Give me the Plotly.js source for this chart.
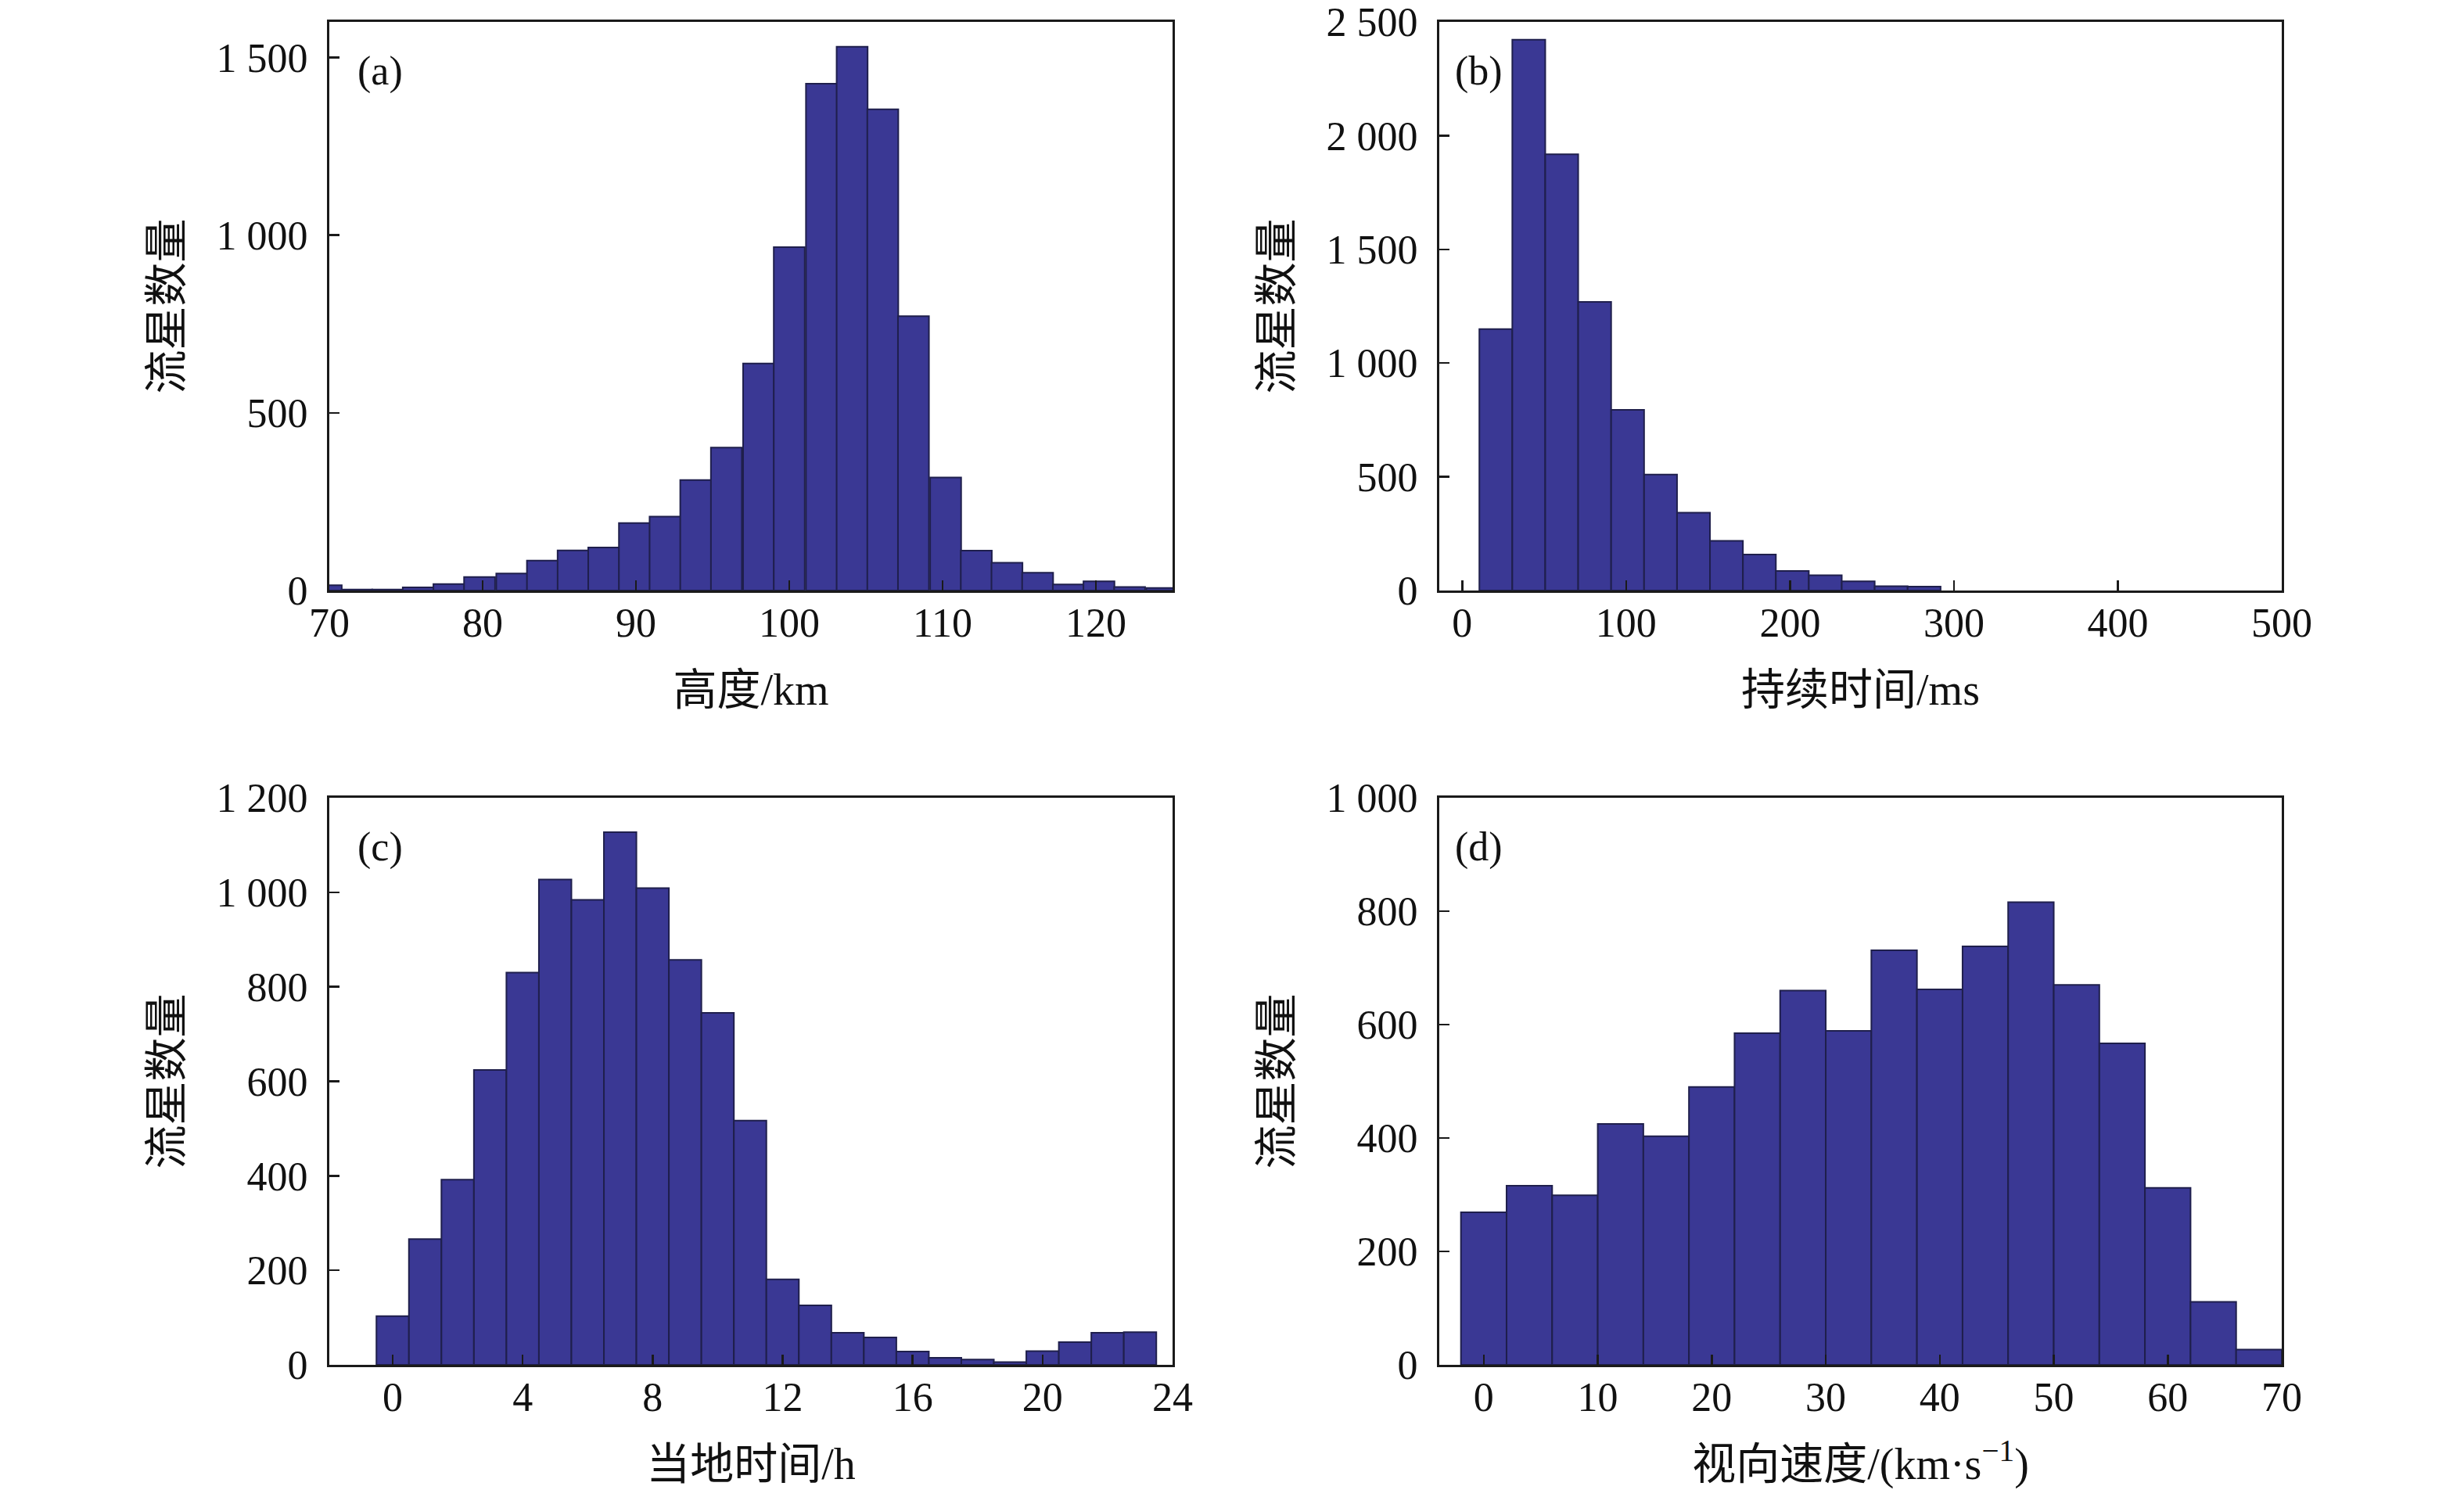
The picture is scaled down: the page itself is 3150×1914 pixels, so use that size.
<!DOCTYPE html>
<html>
<head>
<meta charset="utf-8">
<script src="https://cdn.plot.ly/plotly-3.0.1.min.js"></script>
<style>
  html, body { margin: 0; padding: 0; background: #ffffff; }
  #meteor-plot { width: 3150px; height: 1914px; }
</style>
</head>
<body>
<div id="meteor-plot"></div>
<script>
// ------------------------------------------------------------------------------
// DATA

// (a) height, km
const height_centers = [69.8, 71.8, 73.8, 75.8, 77.8, 79.8, 81.9, 83.9, 85.9, 87.9,
                        89.9, 91.9, 93.9, 95.9, 98.0, 100.0, 102.1, 104.1, 106.1, 108.1,
                        110.2, 112.2, 114.2, 116.2, 118.2, 120.2, 122.2, 124.3];
const height_counts  = [15, 3, 3, 9, 18, 38, 48, 84, 113, 121,
                        190, 208, 311, 402, 639, 966, 1426, 1530, 1354, 772,
                        318, 112, 78, 50, 17, 26, 10, 7];

// (b) duration, ms
const duration_centers = [20.5, 40.6, 60.7, 80.8, 100.9, 121.0, 141.1,
                          161.2, 181.3, 201.4, 221.5, 241.6, 261.7, 281.8];
const duration_counts  = [1149, 2422, 1918, 1269, 794, 510, 342,
                          218, 158, 86, 67, 40, 19, 17];

// (c) local time, h
const hour_centers = [0, 1, 2, 3, 4, 5, 6, 7, 8, 9, 10, 11,
                      12, 13, 14, 15, 16, 17, 18, 19, 20, 21, 22, 23];
const hour_counts  = [103, 266, 392, 624, 830, 1027, 984, 1127, 1009, 857, 745, 517,
                      181, 126, 68, 58, 28, 15, 11, 6, 29, 48, 68, 69];

// (d) radial velocity, km/s
const speed_centers = [0, 4, 8, 12, 16, 20, 24, 28, 32, 36, 40, 44, 48, 52, 56, 60, 64, 68];
const speed_counts  = [269, 316, 299, 425, 403, 490, 585, 660, 589,
                       731, 662, 738, 816, 670, 567, 312, 111, 27];

// tick labels
const height_yticks   = [0, 500, 1000, 1500];
const height_ylabels  = ['0', '500', '1 000', '1 500'];
const duration_yticks  = [0, 500, 1000, 1500, 2000, 2500];
const duration_ylabels = ['0', '500', '1 000', '1 500', '2 000', '2 500'];
const hour_yticks   = [0, 200, 400, 600, 800, 1000, 1200];
const hour_ylabels  = ['0', '200', '400', '600', '800', '1 000', '1 200'];
const speed_yticks  = [0, 200, 400, 600, 800, 1000];
const speed_ylabels = ['0', '200', '400', '600', '800', '1 000'];

const panel_labels = ['(a)', '(b)', '(c)', '(d)'];
const x_titles = ['高度/km', '持续时间/ms', '当地时间/h', '视向速度/(km·s<sup>−1</sup>)'];
const y_title  = '流星数量';


// ------------------------------------------------------------------------------
// STYLE

const font_family = '"Liberation Serif", "Times New Roman", "Noto Sans CJK SC", serif';
const bar_fill    = '#3a3894';
const bar_edge    = '#1f1f4c';
const axis_color  = '#1a1a1a';
const font_size   = 52;
const title_size  = 56;

const plot_config = {
    displayModeBar: false,
    staticPlot: true
};


function makeBars(x, y, width, xaxis, yaxis) {
    return {
        type: 'bar',
        x: x,
        y: y,
        width: width,
        xaxis: xaxis,
        yaxis: yaxis,
        marker: {
            color: bar_fill,
            line: { color: bar_edge, width: 2 }
        },
        showlegend: false,
        hoverinfo: 'none'
    };
}


function makeXAxis(domain, range, dtick, title, anchor) {
    return {
        domain: domain,
        range: range,
        anchor: anchor,
        tick0: 0,
        dtick: dtick,
        ticks: 'inside',
        ticklen: 13,
        tickwidth: 2.5,
        tickcolor: axis_color,
        ticklabelstandoff: -6,
        showline: true,
        linecolor: axis_color,
        linewidth: 3,
        mirror: true,
        showgrid: false,
        zeroline: false,
        tickfont: { family: font_family, size: font_size, color: '#111111' },
        title: {
            text: title,
            standoff: 38,
            font: { family: font_family, size: title_size, color: '#111111' }
        }
    };
}


function makeYAxis(domain, range, tickvals, ticktext, anchor) {
    return {
        domain: domain,
        range: range,
        anchor: anchor,
        tickmode: 'array',
        tickvals: tickvals,
        ticktext: ticktext,
        ticks: 'inside',
        ticklen: 13,
        tickwidth: 2.5,
        tickcolor: axis_color,
        ticklabelstandoff: 14,
        showline: true,
        linecolor: axis_color,
        linewidth: 3,
        mirror: true,
        showgrid: false,
        zeroline: false,
        tickfont: { family: font_family, size: font_size, color: '#111111' },
        title: {
            text: y_title,
            standoff: 26,
            font: { family: font_family, size: title_size, color: '#111111' }
        }
    };
}


// ------------------------------------------------------------------------------
// LAYOUT

const left_dom   = [421 / 3150, 1499 / 3150];
const right_dom  = [1840 / 3150, 2917 / 3150];
const top_dom    = [1 - 755 / 1914, 1 - 28 / 1914];
const bottom_dom = [1 - 1745 / 1914, 1 - 1020 / 1914];

const traces = [
    makeBars(height_centers,   height_counts,   2.02, 'x',  'y'),
    makeBars(duration_centers, duration_counts, 20.1, 'x2', 'y2'),
    makeBars(hour_centers,     hour_counts,     1.0,  'x3', 'y3'),
    makeBars(speed_centers,    speed_counts,    4.0,  'x4', 'y4')
];

const label_shift = [34, 18, 34, 18];
const annotations = panel_labels.map((txt, i) => ({
    text: txt,
    xref: (i === 0 ? 'x' : 'x' + (i + 1)) + ' domain',
    yref: (i === 0 ? 'y' : 'y' + (i + 1)) + ' domain',
    x: 0,
    y: 1,
    xanchor: 'left',
    yanchor: 'top',
    xshift: label_shift[i],
    yshift: -32,
    showarrow: false,
    font: { family: font_family, size: font_size, color: '#111111' }
}));

const layout = {
    width: 3150,
    height: 1914,
    paper_bgcolor: '#ffffff',
    plot_bgcolor: '#ffffff',
    margin: { l: 0, r: 0, t: 0, b: 0 },
    bargap: 0,
    font: { family: font_family, size: font_size, color: '#111111' },

    xaxis:  makeXAxis(left_dom,  [70, 125],    10,  x_titles[0], 'y'),
    yaxis:  makeYAxis(top_dom,   [0, 1600], height_yticks, height_ylabels, 'x'),

    xaxis2: makeXAxis(right_dom, [-14, 500],   100, x_titles[1], 'y2'),
    yaxis2: makeYAxis(top_dom,   [0, 2500], duration_yticks, duration_ylabels, 'x2'),

    xaxis3: makeXAxis(left_dom,  [-1.95, 24],  4,   x_titles[2], 'y3'),
    yaxis3: makeYAxis(bottom_dom, [0, 1200], hour_yticks, hour_ylabels, 'x3'),

    xaxis4: makeXAxis(right_dom, [-3.9, 70],   10,  x_titles[3], 'y4'),
    yaxis4: makeYAxis(bottom_dom, [0, 1000], speed_yticks, speed_ylabels, 'x4'),

    annotations: annotations
};

Plotly.newPlot('meteor-plot', traces, layout, plot_config);
</script>
</body>
</html>
